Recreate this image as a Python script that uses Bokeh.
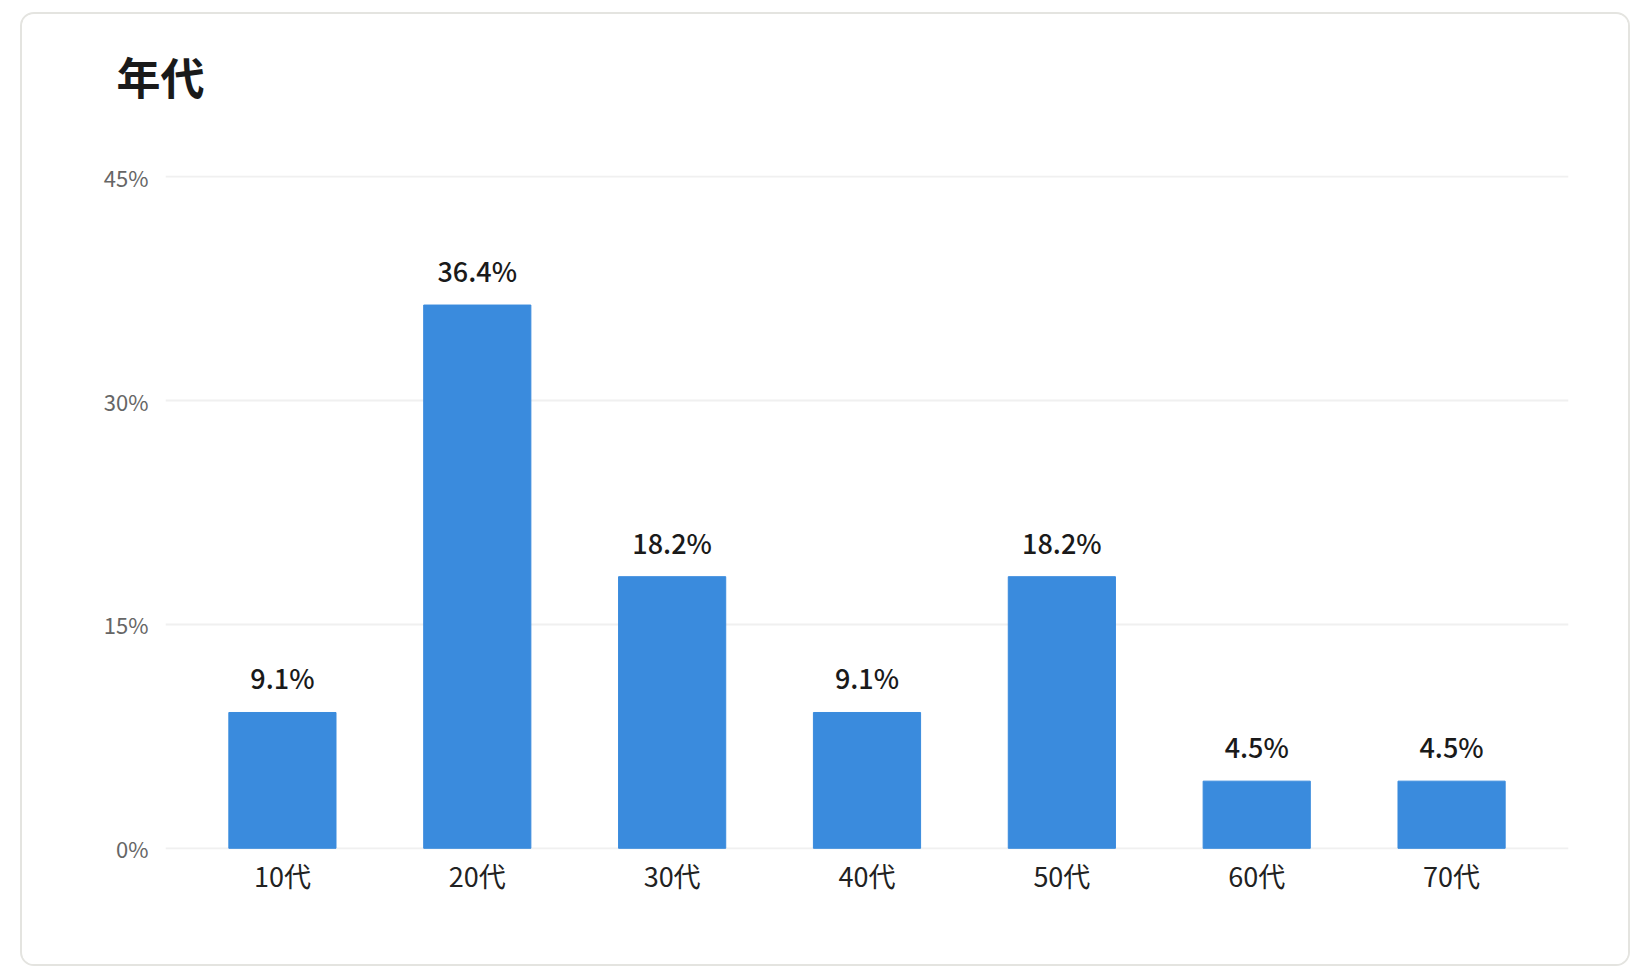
from bokeh.plotting import figure
from bokeh.models import ColumnDataSource, FixedTicker, LabelSet, Range1d
from bokeh.core.properties import value
from bokeh.embed import file_html
from bokeh.resources import INLINE

categories = ["10代", "20代", "30代", "40代", "50代", "60代", "70代"]
values = [9.1, 36.4, 18.2, 9.1, 18.2, 4.5, 4.5]
value_labels = ["9.1%", "36.4%", "18.2%", "9.1%", "18.2%", "4.5%", "4.5%"]
y_ticks = [0, 15, 30, 45]
y_tick_labels = ["0%", "15%", "30%", "45%"]
title_text = "年代"

FONT = "Noto Sans CJK JP"
xs = list(range(len(categories)))

src = ColumnDataSource(dict(x=xs, top=values, lab=value_labels))

p = figure(width=1610, height=954, output_backend="svg", toolbar_location=None,
           x_range=Range1d(-0.6, len(categories) - 0.4), y_range=Range1d(-0.08, 45.08),
           min_border_left=143, min_border_right=64, min_border_top=161, min_border_bottom=119)
p.margin = (12, 0, 0, 20)
p.styles = {"border": "2px solid #e4e4e0", "border-radius": "14px",
            "overflow": "hidden", "background": "white"}
p.outline_line_color = None
p.background_fill_color = "white"
p.border_fill_color = "white"

p.title.text = title_text
p.title.align = "left"
p.title.vertical_align = "top"
p.title.offset = -49
p.title.text_font = FONT
p.title.text_font_size = "44px"
p.title.text_font_style = "bold"
p.title.text_color = "#1a1a1a"
p.title.standoff = 0
p.title.padding = dict(top=20, right=0, bottom=66, left=0)

p.vbar(x="x", top="top", width=0.55, bottom=0, source=src, color="#3a8bdd")

labels = LabelSet(x="x", y="top", text="lab", source=src, y_offset=23,
                  text_align="center", text_baseline="alphabetic",
                  text_font=value("Noto Sans CJK JP Medium, Noto Sans CJK JP"),
                  text_font_size=value("27px"), text_color="#1a1a1a")
p.add_layout(labels)

p.xaxis.ticker = FixedTicker(ticks=xs)
p.xaxis.major_label_overrides = {i: c for i, c in zip(xs, categories)}
p.xaxis.major_label_text_font = FONT
p.xaxis.major_label_text_font_size = "27px"
p.xaxis.major_label_text_color = "#222222"
p.xaxis.major_label_standoff = 0
p.xaxis.axis_line_color = None
p.xaxis.major_tick_line_color = None
p.xaxis.minor_tick_line_color = None

p.yaxis.ticker = FixedTicker(ticks=y_ticks)
p.yaxis.major_label_overrides = {v: s for v, s in zip(y_ticks, y_tick_labels)}
p.yaxis.major_label_text_font = FONT
p.yaxis.major_label_text_font_size = "22px"
p.yaxis.major_label_text_color = "#666666"
p.yaxis.major_label_standoff = 11
p.yaxis.axis_line_color = None
p.yaxis.major_tick_line_color = None
p.yaxis.minor_tick_line_color = None

p.xgrid.grid_line_color = None
p.ygrid.grid_line_color = "#f0f0f0"
p.ygrid.grid_line_width = 2

open("out.html", "w").write(file_html(p, INLINE))
